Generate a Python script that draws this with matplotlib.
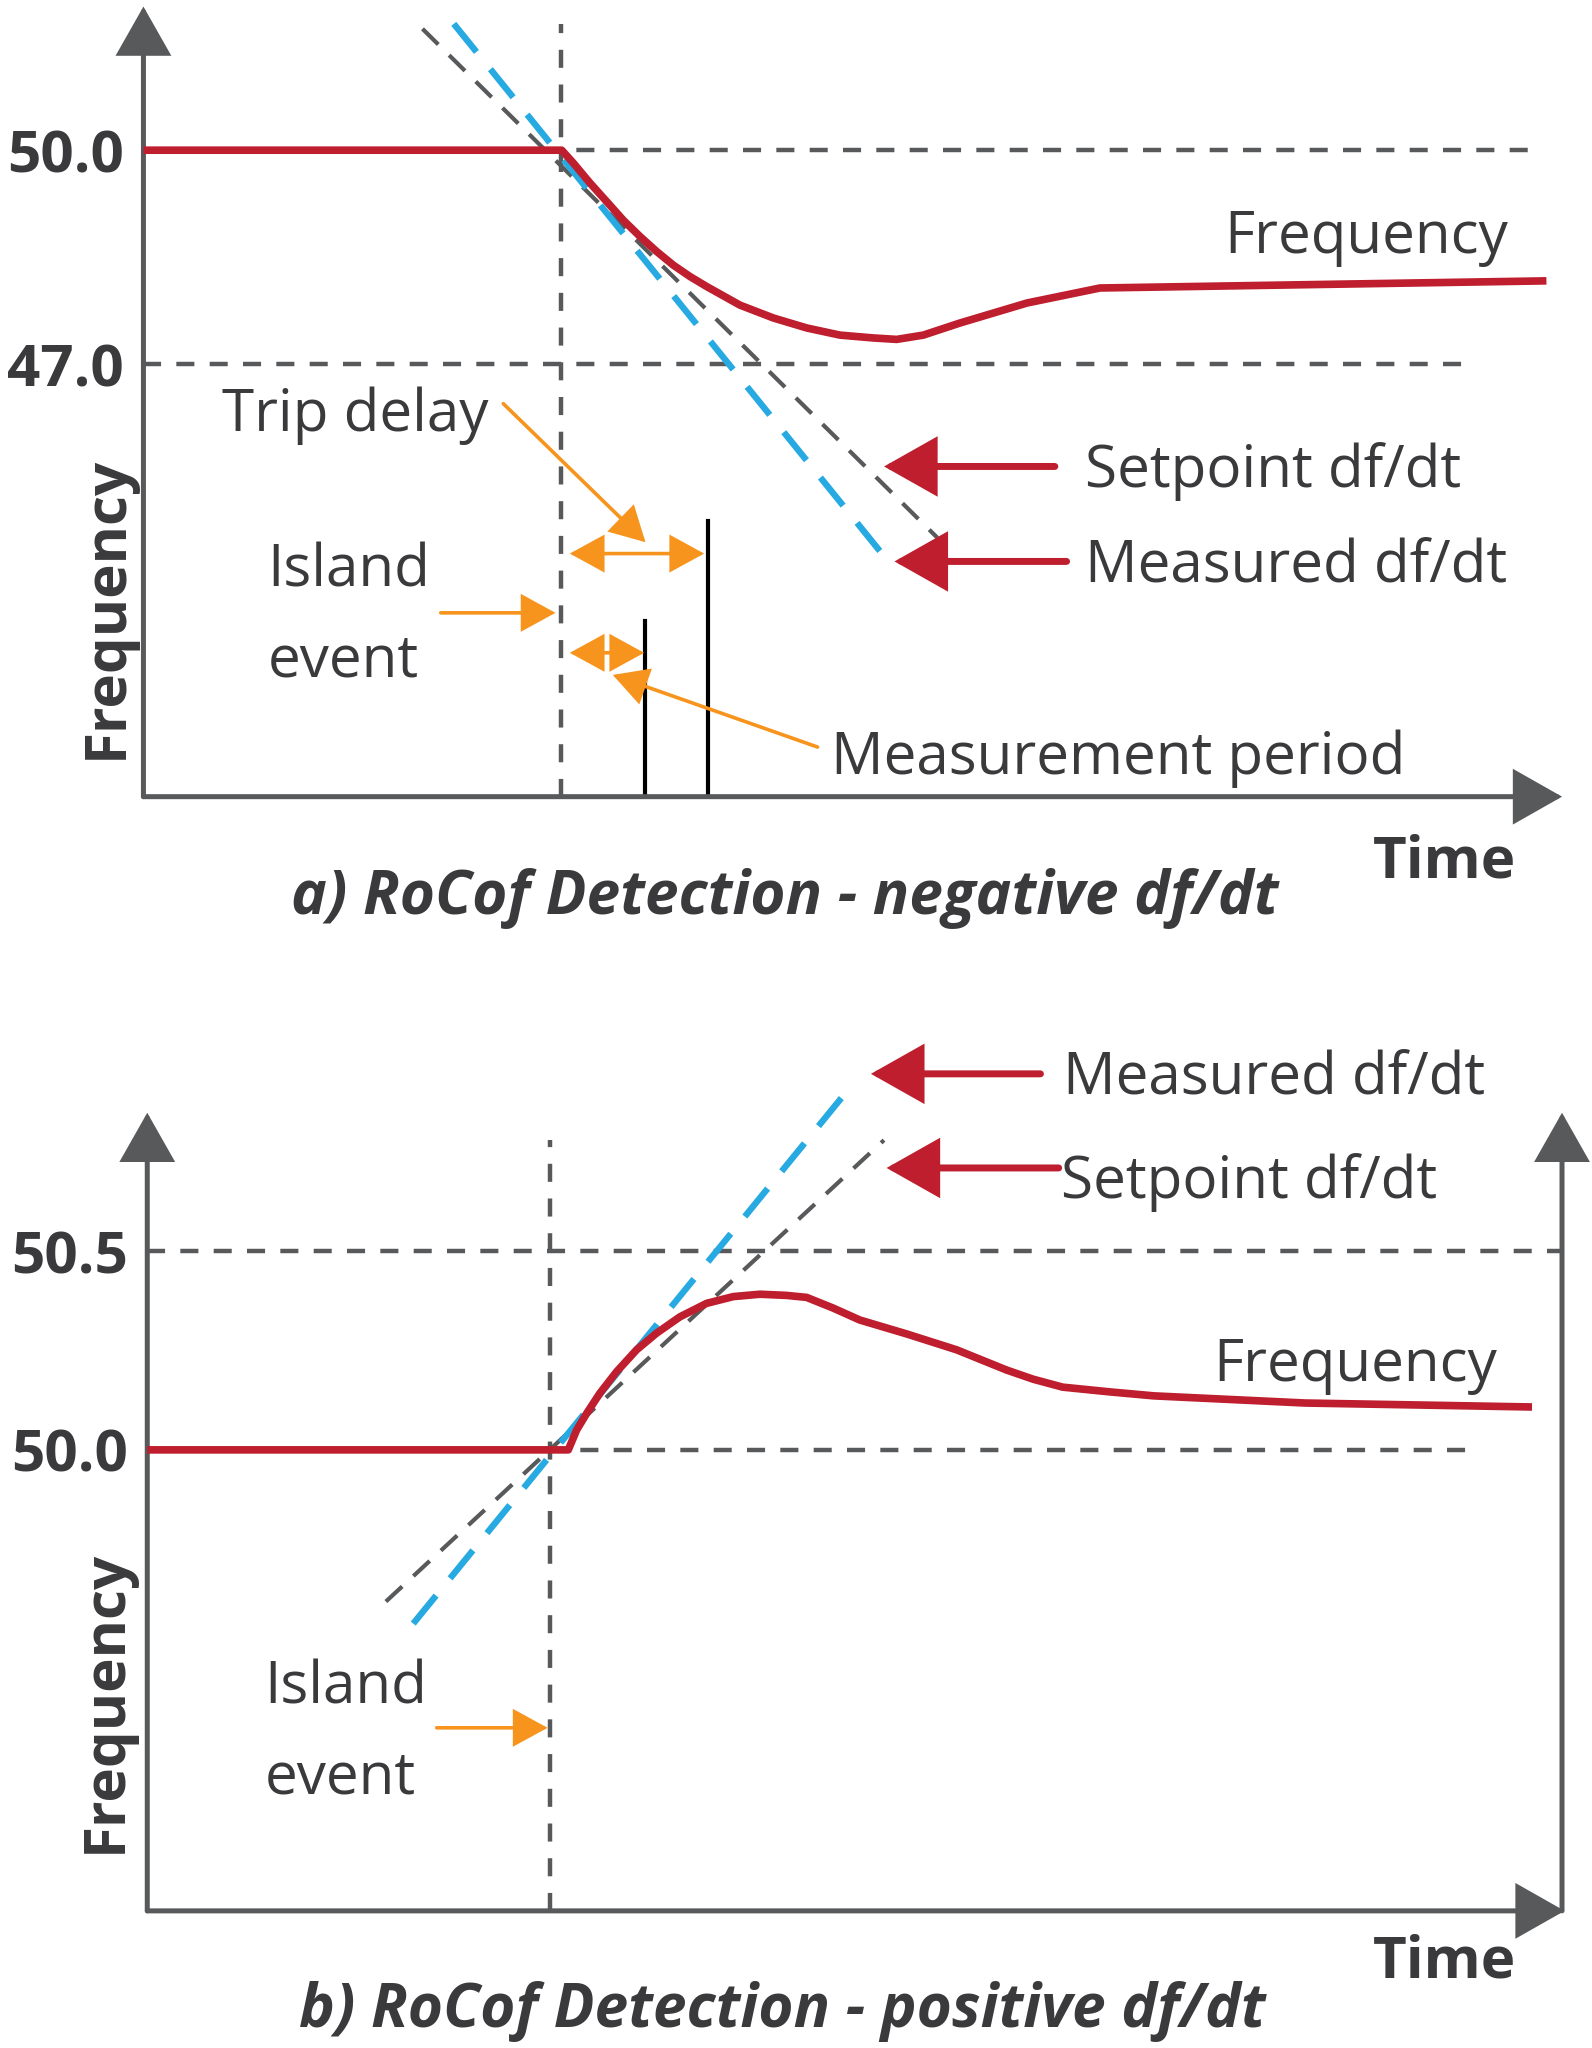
import matplotlib
matplotlib.use("Agg")
import matplotlib.pyplot as plt

plt.rcParams['font.family'] = ['Open Sans', 'DejaVu Sans']
plt.rcParams['lines.scale_dashes'] = False

RED = '#BE1E2D'
BLUE = '#27AAE1'
GREY = '#58595B'
ORANGE = '#F7941D'
TXT = '#3A3A3C'

# ---- panel a: negative df/dt (time in arbitrary units, frequency in Hz) ----
a_time = [0.0, 3.208, 3.297, 3.425, 3.553, 3.680, 3.809, 3.937, 4.064, 4.192,
          4.320, 4.575, 4.831, 5.087, 5.342, 5.598, 5.777, 5.981, 6.263,
          6.777, 7.336, 10.76]
a_freq = [50.0, 50.0, 49.82, 49.54, 49.28, 49.02, 48.79, 48.58, 48.39, 48.23,
          48.09, 47.83, 47.65, 47.51, 47.41, 47.37, 47.35, 47.41, 47.58,
          47.86, 48.07, 48.17]
a_setpoint_t = [2.14, 6.09]
a_setpoint_f = [51.70, 44.57]
a_measured_t = [2.38, 5.69]
a_measured_f = [51.77, 44.29]
a_levels = [50.0, 47.0]
a_level_labels = ['50.0', '47.0']
a_island_t = 3.20
a_meas_end = 3.85
a_trip_end = 4.33

# ---- panel b: positive df/dt ----
b_time = [0.0, 3.229, 3.293, 3.370, 3.472, 3.600, 3.753, 3.906, 4.085, 4.290,
          4.494, 4.699, 4.903, 5.057, 5.261, 5.465, 5.824, 6.207, 6.591,
          6.794, 7.020, 7.383, 7.720, 8.880, 10.62]
b_freq = [50.0, 50.0, 50.050, 50.092, 50.143, 50.197, 50.252, 50.294, 50.335,
          50.369, 50.386, 50.392, 50.389, 50.384, 50.357, 50.327, 50.292,
          50.252, 50.201, 50.178, 50.158, 50.146, 50.136, 50.118, 50.108]
b_setpoint_t = [1.83, 5.65]
b_setpoint_f = [49.618, 50.78]
b_measured_t = [2.04, 5.37]
b_measured_f = [49.5625, 50.905]
b_levels = [50.5, 50.0]
b_level_labels = ['50.5', '50.0']
b_island_t = 3.09

FS = 42


def arrow(ax, start, end, color, lw, hl, hw, style='-|>'):
    ax.annotate('', xy=end, xytext=start, annotation_clip=False,
                arrowprops=dict(arrowstyle=f'{style},head_length={hl},head_width={hw}',
                                mutation_scale=10, color=color, lw=lw,
                                shrinkA=0, shrinkB=0, joinstyle='miter'))


def label(ax, t, f, s, **kw):
    kw.setdefault('fontsize', FS)
    kw.setdefault('color', TXT)
    kw.setdefault('va', 'baseline')
    ax.text(t, f, s, clip_on=False, **kw)


def setup(ax, xlim, ylim, levels, level_labels):
    ax.set_xlim(*xlim)
    ax.set_ylim(*ylim)
    for sp in ax.spines.values():
        sp.set_visible(False)
    ax.set_xticks([])
    ax.set_yticks(levels, level_labels)
    ax.tick_params(axis='y', length=0, pad=14, labelsize=FS, labelcolor=TXT)
    for lbl in ax.get_yticklabels():
        lbl.set_fontweight('bold')
    ax.set_ylabel('Frequency', fontsize=FS, fontweight='bold', color=TXT)
    # axis lines with arrow heads
    arrow(ax, (xlim[0], ylim[0]), (xlim[0], ylim[1]), GREY, 3.6, 3.0, 1.7)
    arrow(ax, (xlim[0], ylim[0]), (xlim[1], ylim[0]), GREY, 3.6, 3.0, 1.7)


fig = plt.figure(figsize=(15.92, 20.48), dpi=100)

# ================= panel a =================
ax = fig.add_axes([0.0901, 0.6110, 0.8911, 0.3858])
xa, ya = (0, 10.88), (40.945, 52.012)
setup(ax, xa, ya, a_levels, a_level_labels)
ax.yaxis.set_label_coords(-0.0055, 0.24)

ax.plot([0, 10.7], [a_levels[0]] * 2, color=GREY, lw=3.2, dashes=(13, 11), zorder=1)
ax.plot([0, 10.18], [a_levels[1]] * 2, color=GREY, lw=3.2, dashes=(13, 11), zorder=1)
ax.plot([a_island_t] * 2, [ya[0], 51.77], color=GREY, lw=3.2, dashes=(13, 12), zorder=1)
ax.plot(a_setpoint_t, a_setpoint_f, color=GREY, lw=3.0, dashes=(16, 11), zorder=2, clip_on=False)
ax.plot(a_measured_t, a_measured_f, color=BLUE, lw=4.6, dashes=(26, 16), zorder=2, clip_on=False)
ax.plot(a_time, a_freq, color=RED, lw=5.5, zorder=3, solid_capstyle='butt',
        solid_joinstyle='round')

# black markers of measurement period and trip delay
ax.plot([a_meas_end] * 2, [ya[0], 43.41], color='black', lw=3)
ax.plot([a_trip_end] * 2, [ya[0], 44.80], color='black', lw=3)

# red label arrows
arrow(ax, (6.99, 45.57), (5.68, 45.57), RED, 5, 3.1, 1.75)
arrow(ax, (7.08, 44.24), (5.76, 44.24), RED, 5, 3.1, 1.75)

# orange arrows
arrow(ax, (2.28, 43.52), (3.16, 43.52), ORANGE, 2.6, 2.1, 1.15)
arrow(ax, (3.27, 44.35), (4.30, 44.35), ORANGE, 2.6, 2.1, 1.15, style='<|-|>')
arrow(ax, (3.27, 42.96), (3.84, 42.96), ORANGE, 2.6, 2.1, 1.15, style='<|-|>')
arrow(ax, (2.76, 46.45), (3.85, 44.51), ORANGE, 2.6, 2.1, 1.15)
arrow(ax, (5.17, 41.64), (3.60, 42.65), ORANGE, 2.6, 2.1, 1.15)

label(ax, 10.47, 48.555, 'Frequency', ha='right')
label(ax, 7.22, 45.28, 'Setpoint df/dt')
label(ax, 7.22, 43.945, 'Measured df/dt')
label(ax, 0.60, 46.07, 'Trip delay')
label(ax, 0.95, 43.89, 'Island')
label(ax, 0.95, 42.63, 'event')
label(ax, 5.27, 41.26, 'Measurement period')
label(ax, 10.53, 39.81, 'Time', ha='right', fontweight='bold')

fig.text(0.493, 0.5536, 'a) RoCof Detection - negative df/dt', ha='center', va='baseline',
         fontsize=43.5, fontweight='bold', fontstyle='italic', color=TXT)

# ================= panel b =================
ax = fig.add_axes([0.0925, 0.06696, 0.8903, 0.3897])
xb, yb = (0, 10.87), (48.839, 50.849)
setup(ax, xb, yb, b_levels, b_level_labels)
ax.yaxis.set_label_coords(-0.0087, 0.262)
arrow(ax, (10.85, yb[0]), (10.85, yb[1]), GREY, 3.6, 3.0, 1.7)

ax.plot([0, 10.85], [b_levels[0]] * 2, color=GREY, lw=3.2, dashes=(13, 11), zorder=1)
ax.plot([0, 10.15], [b_levels[1]] * 2, color=GREY, lw=3.2, dashes=(13, 11), zorder=1)
ax.plot([b_island_t] * 2, [yb[0], 50.78], color=GREY, lw=3.2, dashes=(13, 12), zorder=1)
ax.plot(b_setpoint_t, b_setpoint_f, color=GREY, lw=3.0, dashes=(16, 11), zorder=2, clip_on=False)
ax.plot(b_measured_t, b_measured_f, color=BLUE, lw=4.6, dashes=(26, 16), zorder=2, clip_on=False)
ax.plot(b_time, b_freq, color=RED, lw=5.5, zorder=3, solid_capstyle='butt',
        solid_joinstyle='round')

arrow(ax, (6.85, 50.947), (5.55, 50.947), RED, 5, 3.1, 1.75)
arrow(ax, (6.99, 50.71), (5.67, 50.71), RED, 5, 3.1, 1.75)
arrow(ax, (2.22, 49.30), (3.07, 49.30), ORANGE, 2.6, 2.1, 1.15)

label(ax, 7.02, 50.895, 'Measured df/dt')
label(ax, 7.01, 50.635, 'Setpoint df/dt')
label(ax, 10.35, 50.174, 'Frequency', ha='right')
label(ax, 0.90, 49.362, 'Island')
label(ax, 0.90, 49.135, 'event')
label(ax, 10.50, 48.671, 'Time', ha='right', fontweight='bold')

fig.text(0.4914, 0.0102, 'b) RoCof Detection - positive df/dt', ha='center', va='baseline',
         fontsize=43.5, fontweight='bold', fontstyle='italic', color=TXT)

fig.savefig('out.png', dpi=100)
